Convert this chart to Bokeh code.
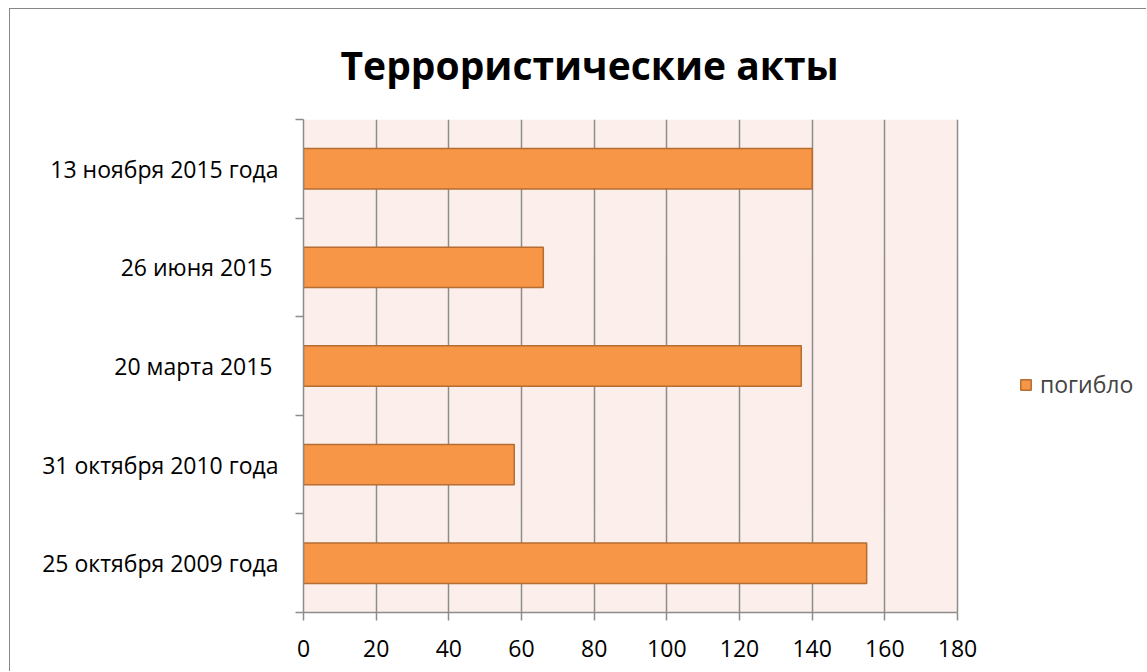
from bokeh.plotting import figure
from bokeh.models import FixedTicker, Legend, LegendItem, ColumnDataSource, Range1d, BoxAnnotation
from bokeh.embed import file_html
from bokeh.resources import INLINE

# ---- data ----
title_text = "Террористические акты"
series_name = "погибло"
categories = ["25 октября 2009 года", "31 октября 2010 года", "20 марта 2015 ",
              "26 июня 2015 ", "13 ноября 2015 года"]
values = [155, 58, 137, 66, 140]
x_ticks = [0, 20, 40, 60, 80, 100, 120, 140, 160, 180]

# ---- layout helpers ----
pos = [i + 0.5 for i in range(len(categories))]
bounds = list(range(len(categories) + 1))
source = ColumnDataSource(dict(y=pos, v=values, cat=categories))

FONT = "Open Sans"
GRID = "#8C8C8C"

# value axis occupies 654 px of an 844 px wide frame; the rest holds the legend
x_lo, x_hi = x_ticks[0], x_ticks[-1]
x_end = x_lo + (x_hi - x_lo) * 844 / 654

p = figure(width=1137, height=663,
           x_range=Range1d(x_lo, x_end), y_range=Range1d(0, len(categories)),
           output_backend="svg", toolbar_location=None, title=title_text,
           min_border_left=293, min_border_right=0, min_border_top=110, min_border_bottom=60,
           background_fill_color="white", border_fill_color="white",
           outline_line_color=None)
p.styles = {"margin-left": "9px", "margin-top": "8px",
            "border-left": "1px solid #878787", "border-top": "1px solid #878787"}

# plot-area background over the value range only
p.add_layout(BoxAnnotation(left=x_lo, right=x_hi, fill_color="#FCEEEA", fill_alpha=1,
                           line_color=None, level="image"))

r = p.hbar(y="y", right="v", left=0, height=0.41, source=source,
           fill_color="#F79646", line_color="#B66D31", line_width=1.5)

# x axis
xa = p.xaxis[0]
xa.ticker = FixedTicker(ticks=x_ticks)
xa.bounds = (x_lo, x_hi)
xa.axis_line_color = GRID
xa.axis_line_width = 1.5
xa.major_tick_line_color = GRID
xa.major_tick_line_width = 1.5
xa.major_tick_out = 8
xa.major_tick_in = 0
xa.minor_tick_line_color = None
xa.major_label_text_font = FONT
xa.major_label_text_font_size = "23px"
xa.major_label_text_color = "black"
xa.major_label_standoff = 19

# y axis
ya = p.yaxis[0]
ya.ticker = FixedTicker(ticks=pos, minor_ticks=bounds)
ya.major_label_overrides = {pos[i]: categories[i] for i in range(len(categories))}
ya.axis_line_color = GRID
ya.axis_line_width = 1.5
ya.major_tick_line_color = None
ya.major_tick_out = 0
ya.major_tick_in = 0
ya.minor_tick_line_color = GRID
ya.minor_tick_line_width = 1.5
ya.minor_tick_out = 8
ya.minor_tick_in = 0
ya.major_label_text_font = FONT
ya.major_label_text_font_size = "23px"
ya.major_label_text_color = "black"
ya.major_label_standoff = 17

# grid
p.xgrid.ticker = FixedTicker(ticks=x_ticks)
p.xgrid.bounds = (x_lo, x_hi)
p.xgrid.grid_line_color = GRID
p.xgrid.grid_line_width = 1.5
p.ygrid.grid_line_color = None

# title
p.title.text_font = FONT
p.title.text_font_size = "39px"
p.title.text_font_style = "bold"
p.title.text_color = "black"
p.title.align = "left"
p.title.vertical_align = "top"
p.title.offset = 37
p.title.standoff = 54

# legend
legend = Legend(items=[LegendItem(label=series_name, renderers=[r])],
                location=(716, 212), glyph_width=13, glyph_height=13,
                label_standoff=8, padding=6, margin=0,
                label_text_font=FONT, label_text_font_size="23px",
                border_line_color=None, background_fill_alpha=0)
p.add_layout(legend)

open("out.html", "w").write(file_html(p, INLINE))
